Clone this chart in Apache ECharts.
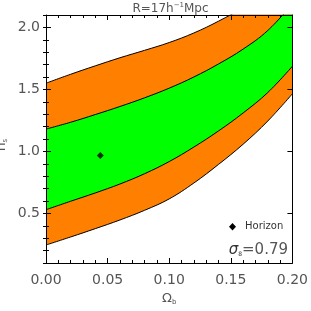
<!DOCTYPE html>
<html><head><meta charset="utf-8">
<script src="https://cdn.jsdelivr.net/npm/echarts@6/dist/echarts.min.js"></script>
<style>html,body{margin:0;padding:0;background:#fff}#c{width:311px;height:311px}</style>
</head><body><div id="c"></div>
<script>
const omegaB = [0, 0.02, 0.04, 0.06, 0.08, 0.10, 0.12, 0.14, 0.16, 0.18, 0.20];
const outerLower = [0.245, 0.31, 0.377, 0.447, 0.525, 0.617, 0.745, 0.895, 1.058, 1.245, 1.465];
const innerLower = [0.53, 0.598, 0.665, 0.737, 0.82, 0.918, 1.035, 1.165, 1.31, 1.475, 1.687];
const innerUpper = [1.18, 1.235, 1.297, 1.362, 1.432, 1.51, 1.60, 1.705, 1.825, 1.975, 2.19];
const outerUpper = [1.55, 1.622, 1.69, 1.755, 1.815, 1.878, 1.955, 2.05, 2.16, 2.29, 2.44];
const horizonPoint = [0.0441, 0.966];
const yTicks = [0.5, 1.0, 1.5, 2.0];
const sigmaText = '=0.79';

const chart = echarts.init(document.getElementById('c'), null, {renderer: 'canvas'});
const labelColor = '#555';
const font = 'DejaVu Sans';
const pts = a => a.map((v, i) => [omegaB[i], v]);
const orange = '#FF7F00', green = '#00FF00';
const band = (name, arr, fill, z) => ({type: 'line', name, data: pts(arr), smooth: 0.4, symbol: 'none',
  clip: true, z, lineStyle: {color: '#000', width: 1},
  areaStyle: {color: fill, opacity: 1, origin: 'start'}});

const yMajorBase = {type: 'value', min: 0.1, max: 2.1, splitLine: {show: false}, z: 10};
chart.setOption({
  animation: false,
  grid: {left: 46, right: 15.5, top: 15, bottom: 48, containLabel: false},
  xAxis: [
    {type: 'value', min: 0, max: 0.2, interval: 0.05, position: 'bottom', z: 10,
     axisLine: {onZero: false, lineStyle: {color: '#000', width: 1}},
     axisTick: {inside: true, length: 5, lineStyle: {color: '#000'}},
     minorTick: {show: true, splitNumber: 5, length: 3, lineStyle: {color: '#000'}},
     axisLabel: {fontFamily: font, fontSize: 14, color: labelColor, margin: 10,
       formatter: v => v.toFixed(2)},
     splitLine: {show: false},
     name: '{o|Ω}{b|b}', nameLocation: 'middle', nameGap: 27,
     nameTextStyle: {rich: {o: {fontFamily: font, fontSize: 13, color: labelColor},
       b: {fontFamily: font, fontSize: 7, color: labelColor, verticalAlign: 'bottom', padding: [8,0,0,0]}}}},
    {type: 'value', min: 0, max: 0.2, interval: 0.05, position: 'top', z: 10,
     axisLine: {onZero: false, lineStyle: {color: '#000', width: 1}},
     axisTick: {inside: true, length: 5, lineStyle: {color: '#000'}},
     minorTick: {show: true, splitNumber: 5, length: 3, lineStyle: {color: '#000'}},
     axisLabel: {show: false}, splitLine: {show: false}}
  ],
  yAxis: [
    Object.assign({}, yMajorBase, {position: 'left',
      axisLine: {onZero: false, lineStyle: {color: '#000', width: 1}},
      axisTick: {inside: true, length: 5, customValues: yTicks, lineStyle: {color: '#000'}},
      axisLabel: {fontFamily: font, fontSize: 14, color: labelColor, margin: 6, customValues: yTicks,
        formatter: v => v.toFixed(1)}}),
    Object.assign({}, yMajorBase, {position: 'right',
      axisLine: {onZero: false, lineStyle: {color: '#000', width: 1}},
      axisTick: {inside: true, length: 5, customValues: yTicks, lineStyle: {color: '#000'}},
      axisLabel: {show: false}}),
    Object.assign({}, yMajorBase, {position: 'left', offset: 0, interval: 0.1,
      axisLine: {show: false}, axisTick: {inside: true, length: 3, lineStyle: {color: '#000'}},
      axisLabel: {show: false}}),
    Object.assign({}, yMajorBase, {position: 'right', offset: 0, interval: 0.1,
      axisLine: {show: false}, axisTick: {inside: true, length: 3, lineStyle: {color: '#000'}},
      axisLabel: {show: false}})
  ],
  series: [
    band('outerUpper', outerUpper, orange, 1),
    band('innerUpper', innerUpper, green, 2),
    band('innerLower', innerLower, orange, 3),
    band('outerLower', outerLower, '#fff', 4),
    {type: 'scatter', name: 'Horizon', data: [horizonPoint], symbol: 'diamond', symbolSize: 7,
     itemStyle: {color: '#000'}, z: 5}
  ],
  graphic: [
    {type: 'text', x: 170.5, y: 2,
     style: {text: '{a|R=17h}{b|−1}{a|Mpc}', align: 'center', verticalAlign: 'top',
       rich: {a: {fontFamily: font, fontSize: 12, fill: labelColor},
              b: {fontFamily: font, fontSize: 7, fill: labelColor, padding: [0,0,6,0]}}}},
    {type: 'text', x: 1, y: 145, rotation: Math.PI / 2,
     style: {text: '{n|n}{s|s}', align: 'center', verticalAlign: 'middle',
       rich: {n: {fontFamily: font, fontSize: 14, fill: labelColor},
              s: {fontFamily: font, fontSize: 7, fill: labelColor, padding: [8,0,0,0]}}}},
    {type: 'polygon', shape: {points: [[232.5, 223], [236, 226.7], [232.5, 230.4], [229, 226.7]]},
     style: {fill: '#000'}, z: 20},
    {type: 'text', x: 245, y: 226.7, z: 20,
     style: {text: 'Horizon', fontFamily: font, fontSize: 10, fill: '#333', verticalAlign: 'middle'}},
    {type: 'text', x: 288, y: 250, z: 20,
     style: {text: '{g|σ}{s|8}{t|' + sigmaText + '}', align: 'right', verticalAlign: 'middle',
       rich: {g: {fontFamily: font, fontSize: 15, fontStyle: 'italic', fill: '#333'},
              s: {fontFamily: font, fontSize: 6, fill: '#333', padding: [8,0,0,0]},
              t: {fontFamily: font, fontSize: 15, fill: labelColor}}}}
  ]
});
</script></body></html>
